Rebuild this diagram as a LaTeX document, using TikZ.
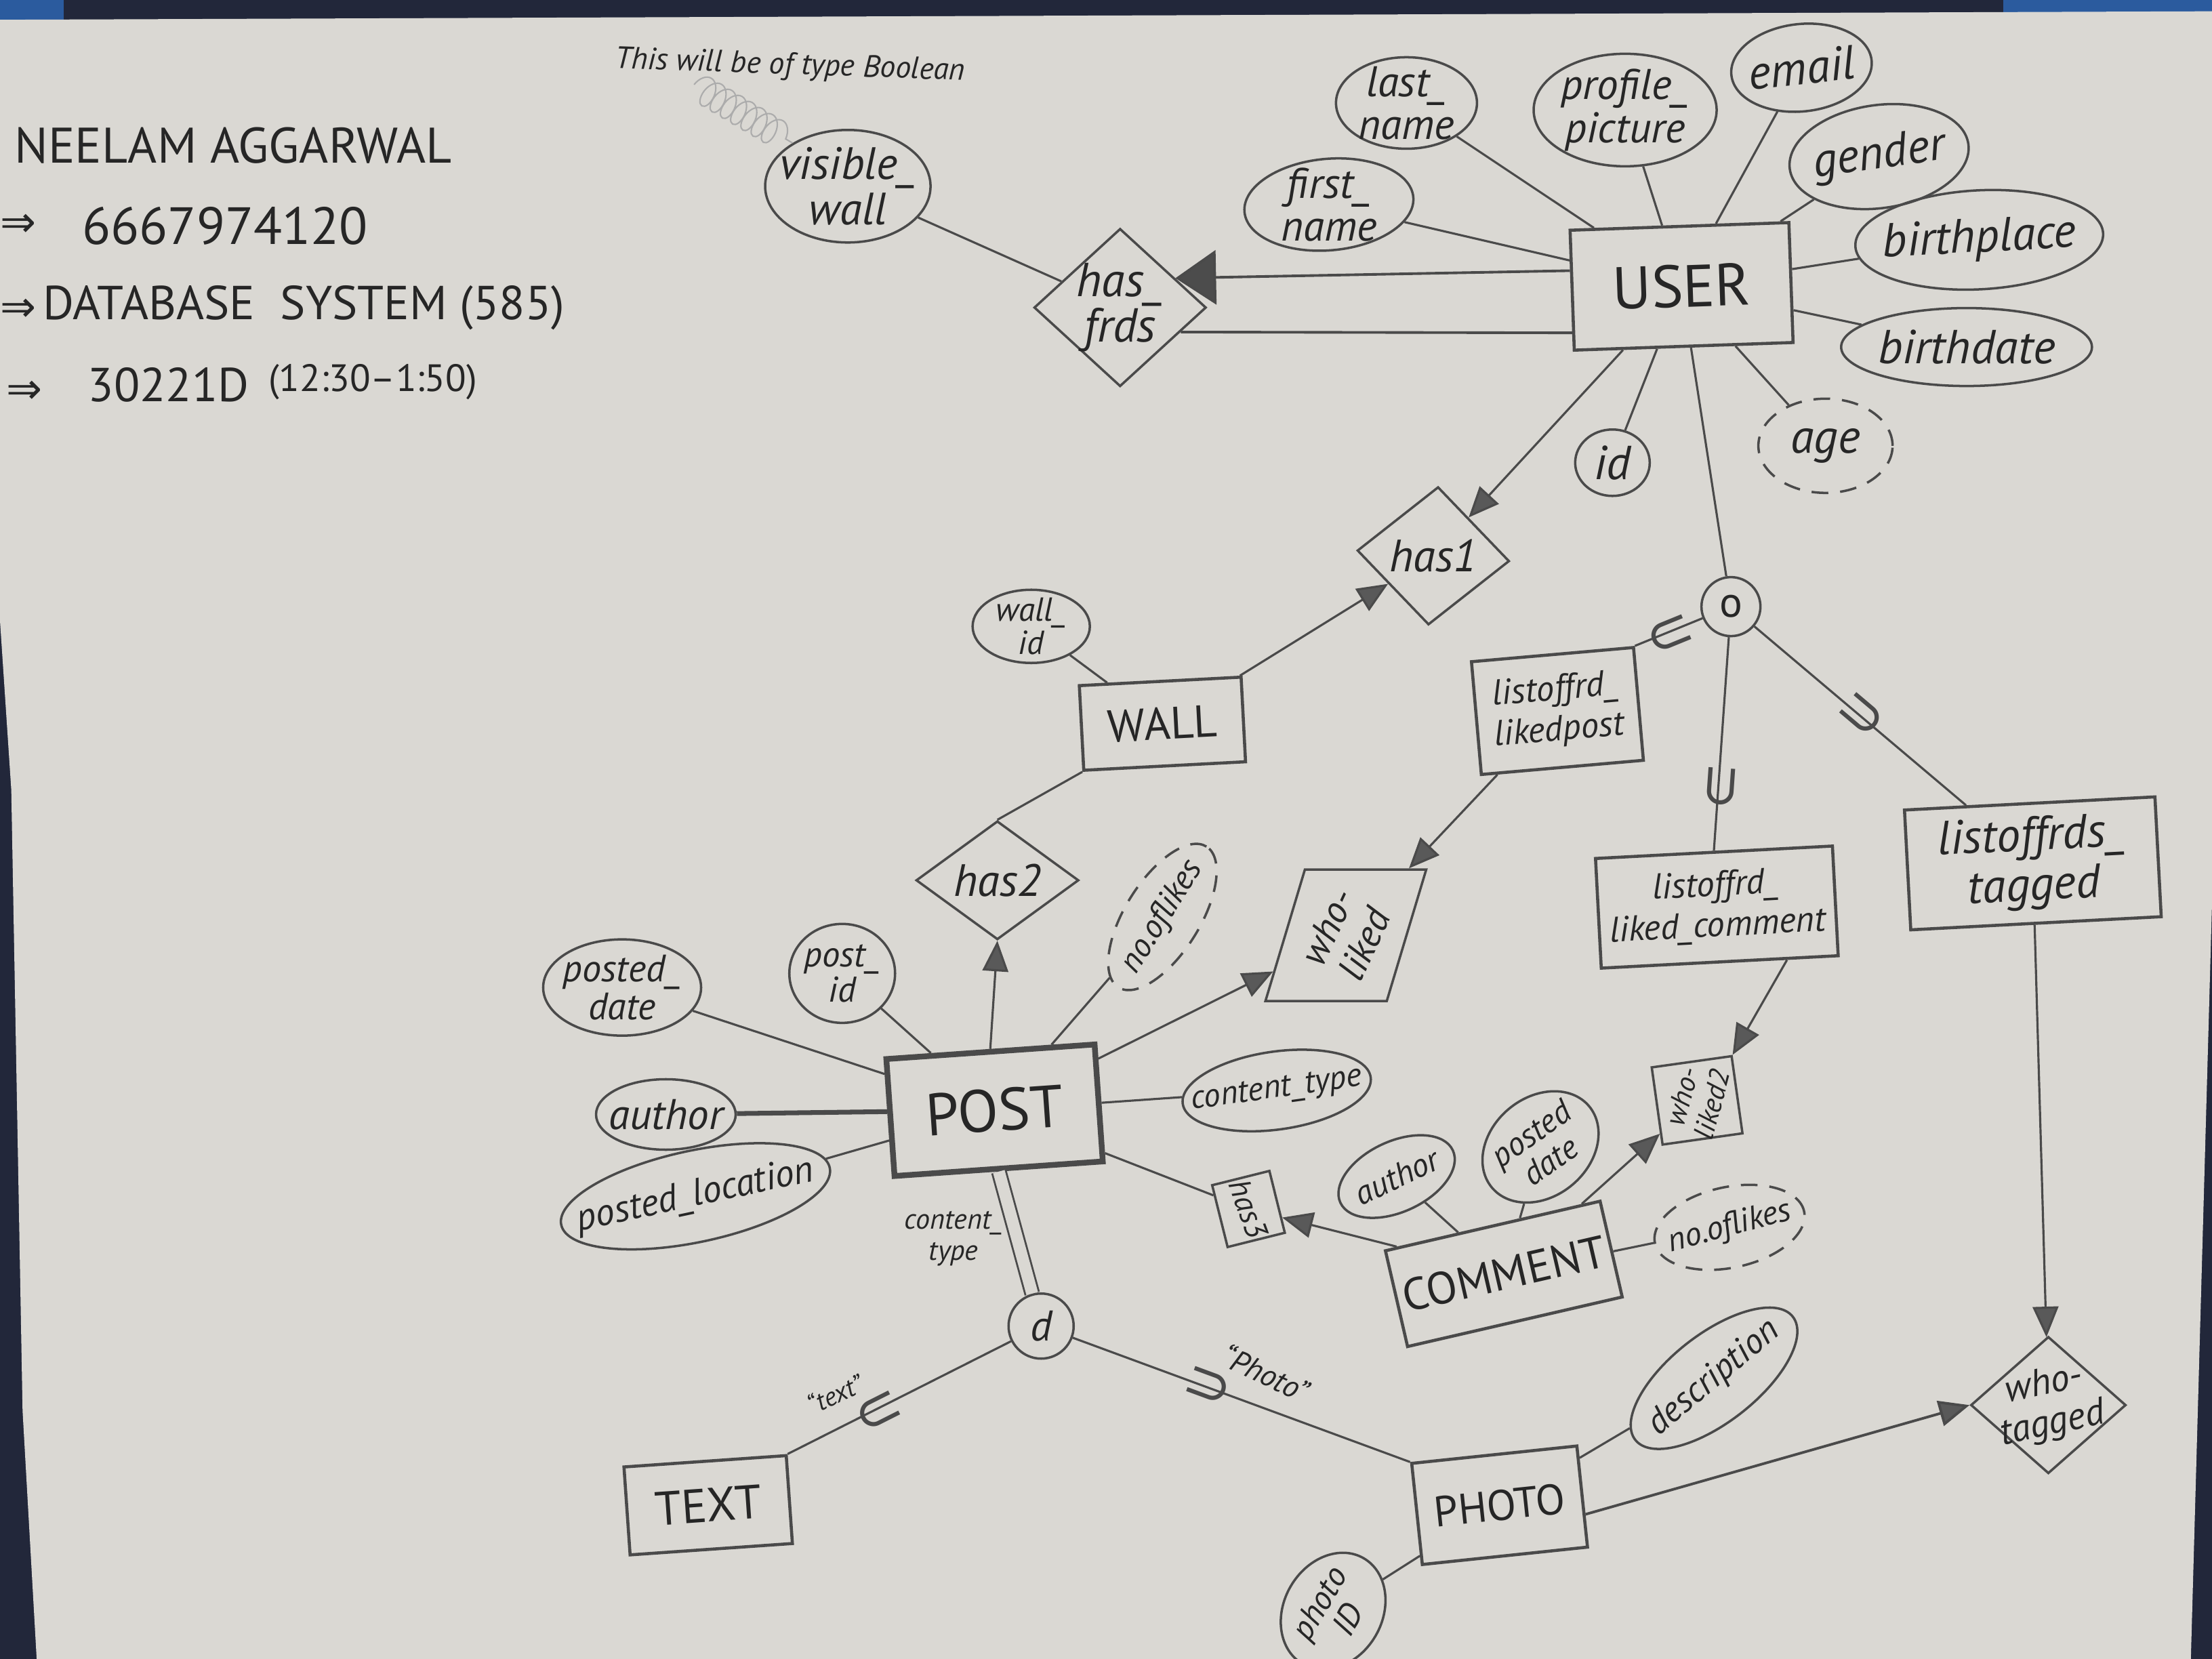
\documentclass[tikz,border=0pt]{standalone}
\usepackage{fontspec}
\setmainfont{PT Sans}
\newfontfamily\symfont{DejaVu Sans}
\usetikzlibrary{shapes.geometric,arrows.meta,decorations.pathmorphing}
\definecolor{paper}{HTML}{DAD8D3}
\definecolor{pencil}{HTML}{4A4A4A}
\definecolor{ink}{HTML}{262626}
\definecolor{edge}{HTML}{22273A}
\definecolor{tape}{HTML}{2B5B9E}
\newcommand{\fsz}[2]{\fontsize{#1}{#2}\selectfont}
\begin{document}
\begin{tikzpicture}[x=0.020816cm,y=-0.020816cm,
  every node/.style={text=ink},
  line/.style={draw=pencil, line width=0.9pt},
  entity/.style={draw=pencil, line width=1.3pt, rectangle, inner sep=0pt, align=center},
  attr/.style={draw=pencil, line width=1pt, ellipse, inner sep=0pt},
  derived/.style={attr, dash pattern=on 7pt off 5pt},
  atxt/.style={font=\fsz{18}{18}\itshape, align=center, text=ink},
  rel/.style={draw=pencil, line width=1pt, diamond, inner sep=0pt},
  rtxt/.style={font=\fsz{19}{19}\itshape, align=center, text=ink},
  inarrow/.style={-{Triangle[length=0.45cm,width=0.38cm,fill=gray!70!black]}},
  bigarrow/.style={-{Triangle[length=0.6cm,width=0.8cm,fill=gray!60!black]}},
  subset/.style={sloped, allow upside down, inner sep=0pt, font=\symfont\fsz{24}{24}, text=pencil},
  hdr/.style={anchor=west, text=ink, inner sep=0pt}
]
\useasboundingbox (0,0) rectangle (1568,1176);

% paper sheet on the desk
\fill[edge] (0,0) rectangle (1568,1176);
\fill[tape] (0,0) rectangle (45,14);
\fill[tape] (1420,0) rectangle (1568,9);
\fill[paper] (0,14) -- (1568,8) -- (1568,640) -- (1553,1176) -- (26,1176) -- (16,1000) -- (8,560) -- (0,440) -- cycle;

% header notes
\node[hdr, font=\fsz{21}{21}] (name) at (10,103) {NEELAM AGGARWAL};
\node[hdr, font=\symfont\fsz{18}{18}] (arr1) at (0,160) {⇒};
\node[hdr, font=\fsz{22}{22}] (phone) at (58,160) {6667974120};
\node[hdr, font=\symfont\fsz{18}{18}] (arr2) at (0,220) {⇒};
\node[hdr, font=\fsz{20}{20}] (course) at (30,218) {DATABASE\ \ SYSTEM (585)};
\node[hdr, font=\symfont\fsz{18}{18}] (arr3) at (4,278) {⇒};
\node[hdr, font=\fsz{20}{20}] (room) at (62,273) {30221D};
\node[hdr, font=\fsz{16}{16}] (time) at (190,271) {(12:30–1:50)};
\node[font=\fsz{13}{13}\itshape, rotate=-2, inner sep=1pt] (note) at (560,47) {This will be of type Boolean};
\coordinate (coil0) at (492,60);

% entities
\node[entity, rotate=2, minimum width=3.23cm, minimum height=1.77cm, font=\fsz{25}{27}] (user) at (1192,203) {USER};
\node[entity, rotate=3, minimum width=2.39cm, minimum height=1.25cm, font=\fsz{19}{21}] (wall) at (824,513) {WALL};
\node[entity, rotate=4, line width=2.4pt, minimum width=3.08cm, minimum height=1.73cm, font=\fsz{25}{27}] (post) at (705,787) {POST};
\node[entity, rotate=13, minimum width=3.25cm, minimum height=1.45cm, font=\fsz{19}{21}] (comment) at (1066,903) {COMMENT};
\node[entity, rotate=4, minimum width=2.4cm, minimum height=1.3cm, font=\fsz{20}{22}] (text) at (502,1067) {TEXT};
\node[entity, rotate=6, minimum width=2.45cm, minimum height=1.5cm, font=\fsz{18}{20}] (photo) at (1063,1067) {PHOTO};
\node[entity, rotate=5, minimum width=2.4cm, minimum height=1.67cm, font=\fsz{15}{17}\itshape] (lflp) at (1104,504) {listoffrd\_\\likedpost};
\node[entity, rotate=3, minimum width=3.5cm, minimum height=1.62cm, font=\fsz{15}{17}\itshape] (lflc) at (1217,643) {listoffrd\_\\liked\_comment};
\node[entity, rotate=3, minimum width=3.7cm, minimum height=1.77cm, font=\fsz{20}{21}\itshape] (lft) at (1441,612) {listoffrds\_\\tagged};

% attributes of USER
\node[attr, minimum width=2.44cm, minimum height=1.66cm, label={[atxt, font=\fsz{19}{19}\itshape]center:visible\_\\wall}] (vwall) at (601,132) {};
\node[attr, rotate=5, minimum width=2.5cm, minimum height=1.35cm, label={[atxt]center:first\_\\name}] (fname) at (942,145) {};
\node[attr, minimum width=2.08cm, minimum height=1.35cm, label={[atxt]center:last\_\\name}] (lname) at (997,73) {};
\node[attr, minimum width=2.7cm, minimum height=1.66cm, label={[atxt]center:profile\_\\picture}] (ppic) at (1152,78) {};
\node[attr, rotate=6, minimum width=2.08cm, minimum height=1.29cm, label={[atxt, font=\fsz{20}{20}\itshape, rotate=6]center:email}] (email) at (1277,48) {};
\node[attr, rotate=8, minimum width=2.66cm, minimum height=1.52cm, label={[atxt, font=\fsz{20}{20}\itshape, rotate=8]center:gender}] (gender) at (1332,111) {};
\node[attr, rotate=3, minimum width=3.66cm, minimum height=1.46cm, label={[atxt, font=\fsz{20}{20}\itshape, rotate=3]center:birthplace}] (bplace) at (1403,170) {};
\node[attr, minimum width=3.7cm, minimum height=1.15cm, label={[atxt, font=\fsz{20}{20}\itshape]center:birthdate}] (bdate) at (1394,246) {};
\node[derived, minimum width=1.98cm, minimum height=1.39cm, label={[atxt, font=\fsz{20}{20}\itshape]center:age}] (age) at (1294,316) {};
\node[attr, minimum width=1.1cm, minimum height=0.98cm, label={[atxt, font=\fsz{20}{20}\itshape]center:id}] (id) at (1143,328) {};

% attribute of WALL
\node[attr, minimum width=1.73cm, minimum height=1.08cm, label={[atxt, font=\fsz{14}{14}\itshape]center:wall\_\\id}] (wallid) at (731,444) {};

% attributes of POST
\node[attr, minimum width=2.33cm, minimum height=1.42cm, label={[atxt, font=\fsz{16}{16}\itshape]center:posted\_\\date}] (pdate) at (441,700) {};
\node[attr, minimum width=1.56cm, minimum height=1.46cm, label={[atxt, font=\fsz{15}{15}\itshape]center:post\_\\id}] (pid) at (597,690) {};
\node[derived, rotate=58, minimum width=2.45cm, minimum height=1.1cm, label={[atxt, font=\fsz{14}{14}\itshape, rotate=58]center:no.oflikes}] (nlikes) at (824,650) {};
\node[attr, minimum width=2.06cm, minimum height=1.04cm, label={[atxt]center:author}] (pauthor) at (472,790) {};
\node[attr, rotate=12, minimum width=4.05cm, minimum height=1.35cm, label={[atxt, font=\fsz{16}{16}\itshape, rotate=12]center:posted\_location}] (ploc) at (493,848) {};
\node[attr, rotate=8, minimum width=2.8cm, minimum height=1.15cm, label={[atxt, font=\fsz{14}{14}\itshape, rotate=8]center:content\_type}] (ctype) at (905,773) {};

% attributes of COMMENT
\node[attr, rotate=25, minimum width=1.83cm, minimum height=1.04cm, label={[atxt, font=\fsz{14}{14}\itshape, rotate=25]center:author}] (cauthor) at (990,834) {};
\node[attr, rotate=40, minimum width=1.87cm, minimum height=1.46cm, label={[atxt, font=\fsz{14}{14}\itshape, rotate=35]center:posted\\date}] (cdate) at (1092,813) {};
\node[derived, rotate=12, minimum width=2.25cm, minimum height=1.19cm, label={[atxt, font=\fsz{14}{14}\itshape, rotate=15]center:no.oflikes}] (cnlikes) at (1226,870) {};

% attributes of PHOTO
\node[attr, rotate=38, minimum width=2.95cm, minimum height=1.3cm, label={[atxt, font=\fsz{15}{15}\itshape, rotate=40]center:description}] (desc) at (1215,977) {};
\node[attr, rotate=60, minimum width=1.8cm, minimum height=1.45cm, label={[atxt, font=\fsz{14}{14}\itshape, rotate=60]center:photo\\ID}] (photoid) at (945,1142) {};

% relationships
\node[rel, minimum width=2.54cm, minimum height=2.33cm] (hasfrds) at (794,218) {};
\node[rtxt, font=\fsz{20}{19}\itshape] (hasfrdsT) at (hasfrds) {has\_\\frds};
\node[rel, rotate=-4, minimum width=2.25cm, minimum height=2.04cm] (has1) at (1016,394) {};
\node[rtxt] (has1T) at (has1) {has1};
\node[rel, minimum width=2.4cm, minimum height=1.75cm] (has2) at (707,624) {};
\node[rtxt] (has2T) at (has2) {has2};
\node[rel, minimum width=2.29cm, minimum height=2.02cm] (wtag) at (1452,996) {};
\node[rtxt, font=\fsz{16}{17}\itshape, rotate=12] (wtagT) at (wtag) {who-\\tagged};
\begin{scope}[shift={(954,663)}, xslant=0.3]
  \node[rel, rectangle, transform shape, minimum width=1.79cm, minimum height=1.94cm] (whol) at (0,0) {};
\end{scope}
\node[rtxt, font=\fsz{16}{17}\itshape, rotate=65] (wholT) at (whol) {who-\\liked};
\node[rel, rectangle, rotate=8, minimum width=1.19cm, minimum height=1.15cm] (whol2) at (1203,780) {};
\node[rtxt, font=\fsz{12}{13}\itshape, rotate=75] (whol2T) at (whol2) {who-\\liked2};
\node[rel, rectangle, rotate=14, minimum width=0.87cm, minimum height=0.94cm] (has3) at (885,857) {};
\node[rtxt, font=\fsz{13}{13}\itshape, rotate=-70] (has3T) at (has3) {has3};

% specialisation circles
\node[draw=pencil, line width=1pt, circle, minimum size=0.87cm, inner sep=0pt, font=\fsz{18}{18}] (ocirc) at (1227,430) {o};
\node[draw=pencil, line width=1pt, circle, minimum size=0.96cm, inner sep=0pt, font=\fsz{18}{18}\itshape] (dcirc) at (738,940) {d};

% small labels near the disjoint specialisation
\node[font=\fsz{12}{13}\itshape, align=center] (ctlabel) at (676,878) {content\_\\type};
\node[font=\fsz{11}{11}\itshape, rotate=25] (textlabel) at (592,988) {“text”};
\node[font=\fsz{13}{13}\itshape, rotate=-25] (photolabel) at (897,973) {“Photo”};

% connectors around USER
\draw[decorate, decoration={coil, aspect=0.6, segment length=5pt, amplitude=6pt}, draw=gray!65, line width=0.6pt] (coil0) -- (vwall.142);
\draw[line] (vwall) -- (hasfrds);
\draw[line, bigarrow, line width=1.1pt] (user.170) -- (hasfrds.28);
\draw[line, line width=1.1pt] (user.201) -- (hasfrds.-22);
\foreach \a in {fname,lname,ppic,email,gender,bplace,bdate,age,id}
  \draw[line] (\a) -- (user);
\draw[line, inarrow] (user) -- (has1);
\draw[line] (user) -- (ocirc);

% WALL and POST
\draw[line, inarrow] (wall) -- (has1);
\draw[line] (wallid) -- (wall);
\draw[line] (wall.south west) -- (has2.north);
\draw[line, inarrow] (post.north) -- (has2.south);
\foreach \a in {nlikes,pdate,pid,ploc,ctype}
  \draw[line] (\a) -- (post);
\draw[line, line width=2pt] (pauthor) -- (post);
\draw[line, inarrow] (post) -- (whol);
\draw[line, inarrow] (lflp) -- (whol);

% overlapping specialisation of USER
\draw[line] (ocirc) -- node[subset, pos=.5] (s1) {⊃} (lflp.north east);
\draw[line] (ocirc) -- node[subset, pos=.7] (s2) {⊃} (lflc.north);
\draw[line] (ocirc) -- node[subset, pos=.5] (s3) {⊃} (lft.136);

% COMMENT
\draw[line] (post) -- (has3);
\draw[line, inarrow] (comment) -- (has3);
\foreach \a in {cauthor,cdate,cnlikes}
  \draw[line] (\a) -- (comment);
\draw[line, inarrow] (comment) -- (whol2);
\draw[line, inarrow] (lflc.-40) -- (whol2.north east);

% tagging
\draw[line, inarrow] (lft) -- (wtag);
\draw[line, inarrow, line width=1.1pt] (photo.-12) -- (wtag.west);
\draw[line] (desc) -- (photo);
\draw[line] (photoid) -- (photo);

% disjoint specialisation of POST
\draw[line, line width=0.8pt, double=paper, double distance=5pt] (post.south) -- (dcirc);
\draw[line] (dcirc) -- node[subset, pos=.6] (s4) {⊃} (text.north east);
\draw[line] (dcirc) -- node[subset, pos=.4] (s5) {⊃} (photo.north west);
\end{tikzpicture}
\end{document}
